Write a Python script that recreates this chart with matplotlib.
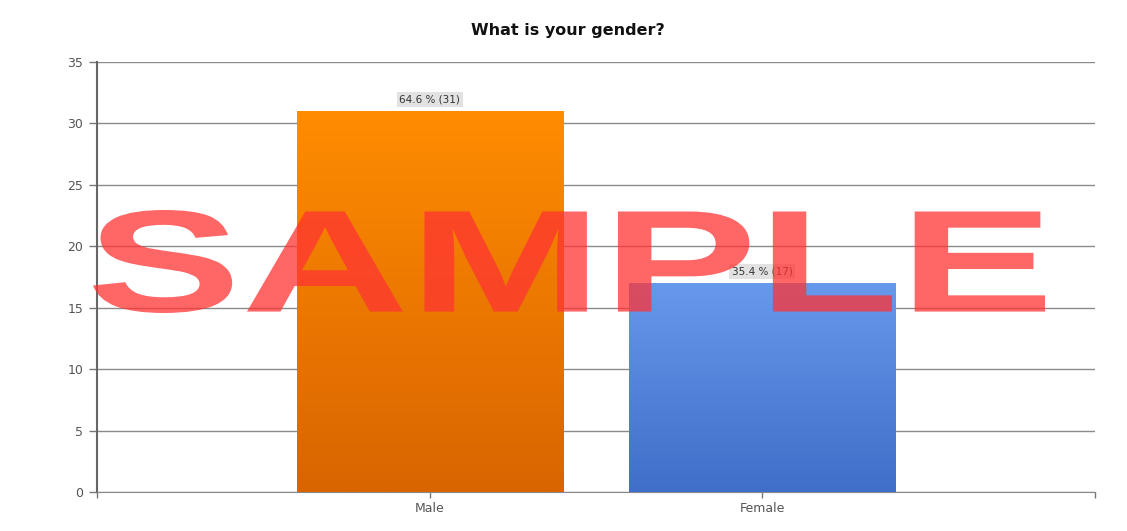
import numpy as np
import matplotlib
matplotlib.use("Agg")
import matplotlib.pyplot as plt
from matplotlib.textpath import TextPath
from matplotlib.patches import PathPatch
from matplotlib.font_manager import FontProperties
from matplotlib.colors import LinearSegmentedColormap
from matplotlib.transforms import Affine2D

# data
categories = ["Male", "Female"]
counts = [31, 17]
percents = [64.6, 35.4]
top_colors = ["#ff8c00", "#6698ec"]
bottom_colors = ["#d86500", "#3f6fc8"]

plt.rcParams['font.family'] = ['DejaVu Sans']

fig = plt.figure(figsize=(11.27, 5.31), dpi=100)
ax = fig.add_axes([97/1127, 39/531, 998/1127, 430/531])

x = np.arange(1, len(categories) + 1)
bars = ax.bar(x, counts, width=0.8, color="none", zorder=3)

# gradient fill for each bar
for b, c_top, c_bot in zip(bars, top_colors, bottom_colors):
    cmap = LinearSegmentedColormap.from_list("g", [c_bot, c_top])
    grad = np.linspace(0, 1, 256).reshape(-1, 1)
    x0, y0 = b.get_x(), b.get_y()
    im = ax.imshow(grad, cmap=cmap, origin="lower", aspect="auto",
                   extent=[x0, x0 + b.get_width(), y0, y0 + b.get_height()],
                   zorder=3)
    im.set_clip_path(b)

# value labels
for xi, c, p in zip(x, counts, percents):
    ax.annotate(f"{p} % ({c})", (xi, c), xytext=(0, 8.5), textcoords="offset points",
                ha="center", va="center", fontsize=7.5, color="#333333", zorder=5,
                bbox=dict(boxstyle="square,pad=0.25", fc="#e2e2e2", ec="none"))

ax.set_xlim(0, 3)
ax.set_ylim(0, 35)
ax.set_yticks(range(0, 36, 5))
ax.set_xticks([0, 1, 2, 3])
ax.set_xticklabels(["", "Male", "Female", ""])
ax.grid(axis="y", color="#8a8a8a", linewidth=1.0, zorder=1)
ax.set_axisbelow(True)
for s in ["top", "right"]:
    ax.spines[s].set_visible(False)
ax.spines["left"].set_color("#666666")
ax.spines["left"].set_linewidth(1.5)
ax.spines["bottom"].set_color("#888888")
ax.tick_params(axis="y", length=6, width=1, color="#777777", labelsize=9, labelcolor="#555555", pad=4)
ax.tick_params(axis="x", length=4, width=1, color="#777777", labelsize=9, labelcolor="#555555", pad=3)

fig.text(568/1127, 1 - 30/531, "What is your gender?", ha="center", va="center",
         fontsize=11.5, fontweight="bold", color="#111111")

# watermark
tp = TextPath((0, 0), "SAMPLE", size=1, prop=FontProperties(family="Liberation Sans", weight="bold"))
ext = tp.get_extents()
W, H = 1127, 531
left, right, top, bottom = 93, 1045, 210, 313
sx = (right - left) / W / ext.width
sy = (bottom - top) / H / ext.height
tr = Affine2D().translate(-ext.x0, -ext.y0).scale(sx, sy).translate(left / W, 1 - bottom / H)
path = tr.transform_path(tp)
fig.patches.append(PathPatch(path, transform=fig.transFigure, fc="#ff3333", ec="none",
                             alpha=0.75, zorder=10))

fig.savefig("out.png", dpi=100)
